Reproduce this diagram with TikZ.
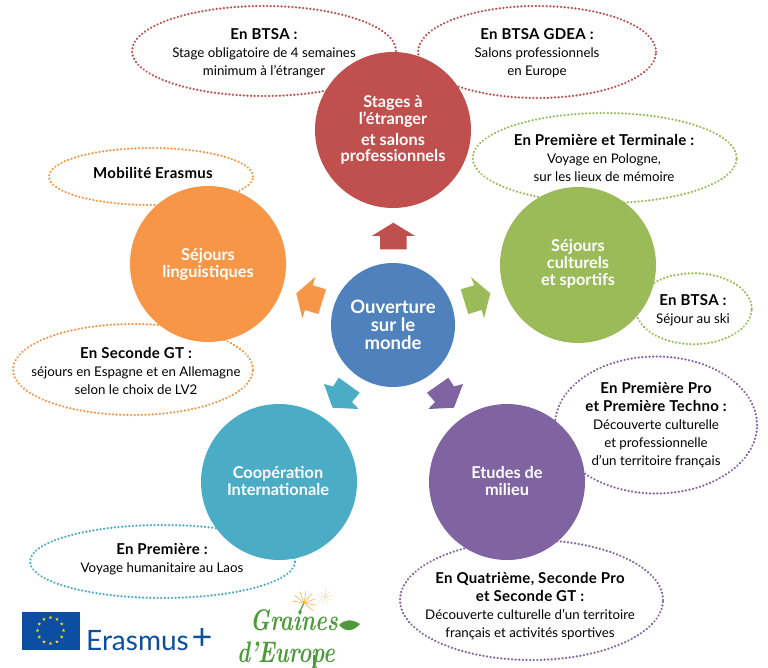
\documentclass[tikz,border=0pt]{standalone}
\usepackage{fontspec}
\setmainfont{Lato}
\newfontfamily\logofont{Latin Modern Roman}
\definecolor{cred}{HTML}{C0504D}
\definecolor{cgreen}{HTML}{9BBB59}
\definecolor{cpurple}{HTML}{8064A2}
\definecolor{cteal}{HTML}{4BACC6}
\definecolor{corange}{HTML}{F79646}
\definecolor{cblue}{HTML}{4F81BD}
\definecolor{cleaf}{HTML}{4C9A3A}
\definecolor{eublue}{HTML}{0B4EA2}
\definecolor{euyellow}{HTML}{FFD617}
\definecolor{seedor}{HTML}{F5B54A}
\usetikzlibrary{shapes.geometric}
\tikzset{
  disc/.style={circle,fill=#1,inner sep=0pt,minimum size=156pt},
  disclabel/.style={text=white,inner sep=0pt,align=center,font=\fontsize{16.3}{17}\selectfont\bfseries},
  oval/.style={ellipse,draw=#1,line width=2.5pt,line cap=round,dash pattern=on 0.01pt off 3.6pt,fill=white,inner sep=0pt},
  note/.style={align=center,text=black,font=\fontsize{13.3}{18}\selectfont,inner sep=0pt},
  arrowshape/.style={fill=#1,draw=none},
  logotext/.style={inner sep=0pt,text=cleaf,font=\logofont\fontsize{27}{27}\selectfont\bfseries\itshape,anchor=base,xscale=.82,yscale=1.1,transform shape}
}
\newcommand{\hd}[1]{{\fontsize{15}{19}\selectfont\bfseries\addfontfeature{LetterSpace=2}#1}}
\begin{document}
\begin{tikzpicture}[x=1pt,y=-1pt]
\useasboundingbox (0,0) rectangle (768,668);
% ovals
\node[oval=cred,minimum width=264pt,minimum height=90pt] (o1) at (264,51) {};
\node[oval=cred,minimum width=238pt,minimum height=92pt] (o2) at (537,52) {};
\node[oval=cgreen,minimum width=264pt,minimum height=90pt] (o3) at (604.7,158) {};
\node[oval=cgreen,minimum width=116pt,minimum height=71pt] (o4) at (693.7,308.7) {};
\node[oval=corange,minimum width=204pt,minimum height=57pt] (o5) at (151,176.5) {};
\node[oval=corange,minimum width=240pt,minimum height=91pt] (o6) at (133,369.5) {};
\node[oval=cpurple,minimum width=202pt,minimum height=137pt] (o7) at (656,425) {};
\node[oval=cpurple,minimum width=263pt,minimum height=120pt] (o8) at (531.5,600) {};
\node[oval=cteal,minimum width=265pt,minimum height=73pt] (o9) at (162.5,561.5) {};
% circles
\node[disc=cred] (c1) at (393,130) {};
\node[disc=cgreen] (c2) at (578,265) {};
\node[disc=cpurple] (c3) at (507,482) {};
\node[disc=cteal] (c4) at (279,482) {};
\node[disc=corange] (c5) at (208,264) {};
\node[disc=cblue,minimum size=124pt] (c0) at (393,325) {};
% circle labels
\node[disclabel] (t1) at (393,130) {Stages à\\[-0.5pt]l’étranger\\[4pt]et salons\\[-1pt]professionnels};
\node[disclabel] (t2) at (578,264) {Séjours\\culturels\\et sportifs};
\node[disclabel] (t3) at (507,481.5) {Etudes de\\milieu};
\node[disclabel] (t4) at (278,481.5) {Coopération\\Internationale};
\node[disclabel] (t5) at (208,264.5) {Séjours\\linguistiques};
\node[disclabel,font=\fontsize{18.5}{18}\selectfont\bfseries] (t0) at (393,324.5) {Ouverture\\sur le\\monde};
% arrows
\fill[arrowshape=cred] (393.3,222.7) -- (415,236) -- (406.7,236) -- (406.7,249.3) -- (380,249.3) -- (380,236) -- (371.7,236) -- cycle;
\fill[arrowshape=cgreen] (471,277) -- (490.3,293.3) -- (484,318.3) -- (481.7,310) -- (468.3,314) -- (460.7,289.3) -- (474.3,285.3) -- cycle;
\fill[arrowshape=corange] (315.3,277) -- (296.3,293.3) -- (302.3,318.3) -- (305,310) -- (318.3,314) -- (326,289.3) -- (312.7,285.3) -- cycle;
\fill[arrowshape=cteal] (324,384) -- (333,386.5) -- (338.7,377.7) -- (359.7,392.7) -- (352,402) -- (358.7,409) -- (332.5,407.7) -- cycle;
\fill[arrowshape=cpurple] (463,384) -- (454,386.5) -- (448.3,377.7) -- (427,392.7) -- (435,402) -- (428.3,409) -- (454,407.7) -- cycle;
% notes
\node[note] (n1) at (264,53) {\hd{En BTSA :}\\Stage obligatoire de 4 semaines\\minimum à l’étranger};
\node[note] (n2) at (537,53) {\hd{En BTSA GDEA :}\\Salons professionnels\\en Europe};
\node[note] (n3) at (604,158) {\hd{En Première et Terminale :}\\Voyage en Pologne,\\sur les lieux de mémoire};
\node[note] (n4) at (693,310) {\hd{En BTSA :}\\Séjour au ski};
\node[note] (n5) at (153,173) {\hd{Mobilité Erasmus}};
\node[note] (n6) at (136,371) {\hd{En Seconde GT :}\\séjours en Espagne et en Allemagne\\selon le choix de LV2};
\node[note] (n7) at (656,425) {\hd{En Première Pro}\\\hd{et Première Techno :}\\Découverte culturelle\\et professionnelle\\d’un territoire français};
\node[note] (n8) at (530,606) {\hd{En Quatrième, Seconde Pro}\\\hd{et Seconde GT :}\\Découverte culturelle d’un territoire\\français et activités sportives};
\node[note] (n9) at (162,559.5) {\hd{En Première :}\\Voyage humanitaire au Laos};
% Erasmus+ logo
\fill[eublue] (22,612) rectangle (80,650);
\foreach \a in {0,30,...,330}
  \node[star,star points=5,star point ratio=2.4,fill=euyellow,inner sep=0pt,minimum size=3.6pt] at ({50.5+13*cos(\a)},{630.5+13*sin(\a)}) {};
\node[inner sep=0pt,text=eublue,font=\fontsize{28}{28}\selectfont,anchor=base west] (er) at (86,650) {Erasmus};
\node[inner sep=0pt,text=eublue,font=\fontsize{36}{36}\selectfont,anchor=center] (pl) at (202,639.5) {+};
% Graines d'Europe logo
\draw[cleaf,line width=1.5pt] (314,668) -- (314,655);
\draw[cleaf,line width=1.1pt] (300,612) .. controls (301,609) and (302,606) .. (304,603);
\foreach \a in {-170,-140,-110,-80,-50,-20,10,40}
  \draw[seedor,line width=.6pt] (304,603) -- ++({12*cos(\a)},{12*sin(\a)});
\foreach \a in {-170,-130,-90,-50,-10,30,70,110,150}
  \draw[seedor!60!white,line width=.5pt,dash pattern=on 1.5pt off 1pt] (325,597) -- ++({8*cos(\a)},{8*sin(\a)});
\node[logotext] (g1) at (294,630) {Graines};
\node[logotext] (g2) at (286,662) {d’Europe};
\fill[cleaf] (339,625) .. controls (345,619) and (352,619) .. (360,624) .. controls (353,632) and (345,632) .. (339,625) -- cycle;
\end{tikzpicture}
\end{document}
